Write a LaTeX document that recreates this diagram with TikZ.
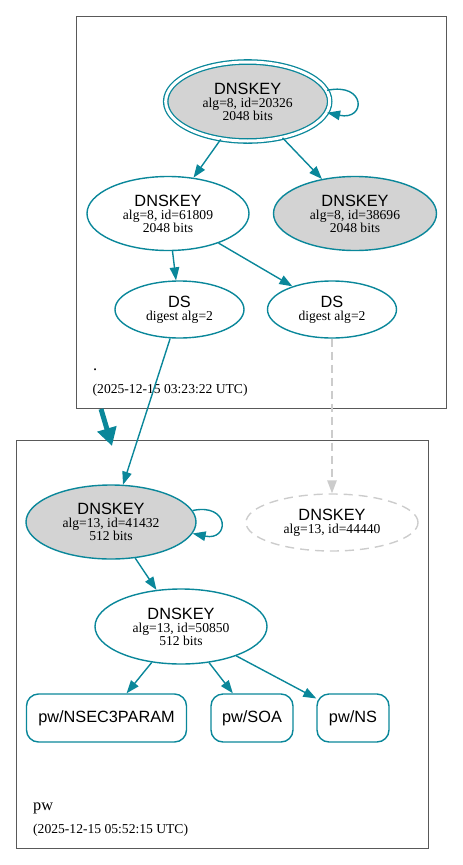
\documentclass[tikz,border=0pt]{standalone}
\usepackage{fontspec}
\setmainfont{Liberation Serif}
\setsansfont{Liberation Sans}
\usetikzlibrary{shapes.geometric,arrows.meta}

\definecolor{dnsteal}{HTML}{0A879A}
\definecolor{dnsgris}{HTML}{D3D3D3}
\definecolor{dnsfalta}{HTML}{CCCCCC}

\begin{document}
\begin{tikzpicture}[x=1pt,y=-1pt]
    % Tamaño fijo del lienzo
    \useasboundingbox (0,0) rectangle (463,865);

    % Estilo para las claves
    \tikzstyle{key_style} = [ellipse, draw=dnsteal, line width=1.4pt, inner sep=0pt, align=center,
        font=\fontsize{13.6}{13}\selectfont]
    \tikzstyle{sep_style} = [key_style, fill=dnsgris]
    \tikzstyle{ksk_style} = [sep_style, double=white, double distance=3pt, line width=1.3pt]
    \tikzstyle{missing_style} = [ellipse, draw=dnsfalta, line width=1.4pt, dash pattern=on 9pt off 6pt,
        inner sep=0pt, align=center, font=\fontsize{13.6}{13}\selectfont]

    % Estilo para los registros
    \tikzstyle{rr_style} = [rectangle, rounded corners=12pt, draw=dnsteal, line width=1.4pt,
        minimum height=48pt, font=\fontsize{16.3}{18}\sffamily]

    % Estilo para las aristas
    \tikzstyle{edge_style} = [-{Triangle[length=13pt, width=9.5pt]}, line width=1.4pt, draw=dnsteal]
    \tikzstyle{missing_edge} = [-{Triangle[length=13pt, width=9.5pt]}, line width=1.4pt, draw=dnsfalta,
        dash pattern=on 8pt off 5pt]
    \tikzstyle{deleg_style} = [-{Triangle[length=18pt, width=19pt]}, line width=5pt, draw=dnsteal]

    % Estilo para las zonas
    \tikzstyle{zone_style} = [draw=black!65, line width=1pt]
    \tikzstyle{name_style} = [anchor=base west, inner sep=0pt, font=\fontsize{16.3}{18}\selectfont]
    \tikzstyle{date_style} = [anchor=base west, inner sep=0pt, font=\fontsize{13.6}{15}\selectfont]

    % Zona raíz
    \draw[zone_style] (76,16) rectangle (446,408.5);
    \node[name_style] (raiz) at (93,370) {.};
    \node[date_style] (fecharaiz) at (92.5,393.5) {(2025-12-15 03:23:22 UTC)};

    \node[ksk_style, minimum width=164pt, minimum height=79pt] (K20326) at (247.7,101.5)
        {{\sffamily\fontsize{16.3}{13}\selectfont DNSKEY}\\alg=8, id=20326\\2048 bits};
    \node[key_style, minimum width=162pt, minimum height=74pt] (K61809) at (168,213.5)
        {{\sffamily\fontsize{16.3}{13}\selectfont DNSKEY}\\alg=8, id=61809\\2048 bits};
    \node[sep_style, minimum width=163pt, minimum height=74pt] (K38696) at (355,213.5)
        {{\sffamily\fontsize{16.3}{13}\selectfont DNSKEY}\\alg=8, id=38696\\2048 bits};
    \node[key_style, minimum width=129pt, minimum height=57pt] (DS1) at (179.5,309.5)
        {{\sffamily\fontsize{16.3}{13}\selectfont DS}\\digest alg=2};
    \node[key_style, minimum width=129pt, minimum height=57pt] (DS2) at (332,309.5)
        {{\sffamily\fontsize{16.3}{13}\selectfont DS}\\digest alg=2};

    % Zona pw
    \draw[zone_style] (16,440) rectangle (428,848);
    \node[name_style] (pw) at (33,810) {pw};
    \node[date_style] (fechapw) at (33,833.5) {(2025-12-15 05:52:15 UTC)};

    \node[sep_style, minimum width=170pt, minimum height=74pt] (K41432) at (111,522)
        {{\sffamily\fontsize{16.3}{13}\selectfont DNSKEY}\\alg=13, id=41432\\512 bits};
    \node[missing_style, minimum width=172pt, minimum height=57pt] (K44440) at (332,522.5)
        {{\sffamily\fontsize{16.3}{13}\selectfont DNSKEY}\\alg=13, id=44440};
    \node[key_style, minimum width=172pt, minimum height=75pt] (K50850) at (181,626.5)
        {{\sffamily\fontsize{16.3}{13}\selectfont DNSKEY}\\alg=13, id=50850\\512 bits};

    \node[rr_style, minimum width=160pt] (NSEC3PARAM) at (106.5,718) {pw/NSEC3PARAM};
    \node[rr_style, minimum width=82pt] (SOA) at (252,718) {pw/SOA};
    \node[rr_style, minimum width=72pt] (NS) at (353,718) {pw/NS};

    % Conexiones entre las claves
    \draw[edge_style] (K20326.8) to[out=12, in=-12, distance=40pt] (K20326.-8);
    \draw[edge_style] (K20326) -- (K61809);
    \draw[edge_style] (K20326) -- (K38696);
    \draw[edge_style] (K61809) -- (DS1);
    \draw[edge_style] (K61809) -- (DS2);
    \draw[edge_style] (DS1) -- (K41432);
    \draw[missing_edge] (DS2) -- (K44440);
    \draw[edge_style] (K41432.8) to[out=12, in=-12, distance=38pt] (K41432.-8);
    \draw[edge_style] (K41432) -- (K50850);
    \draw[edge_style] (K50850) -- (NSEC3PARAM);
    \draw[edge_style] (K50850) -- (SOA);
    \draw[edge_style] (K50850) -- (NS);

    % Delegación entre zonas
    \coordinate (salida) at (101,409);
    \coordinate (entrada) at (112,446);
    \draw[deleg_style] (salida) -- (entrada);

\end{tikzpicture}
\end{document}
